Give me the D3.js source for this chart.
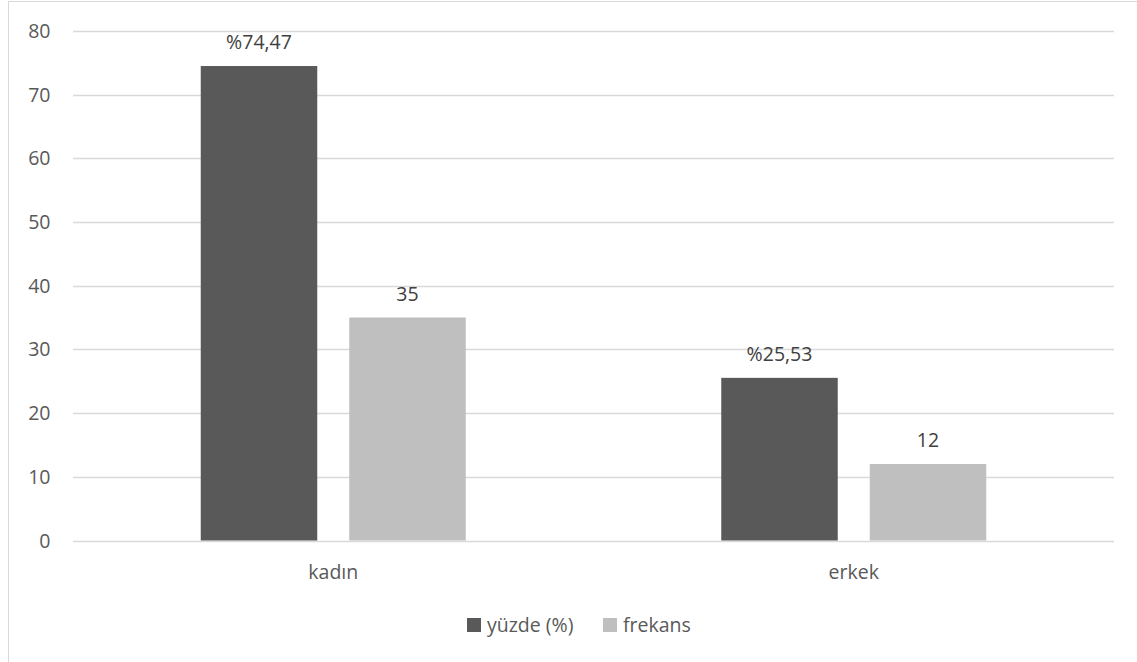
<!DOCTYPE html>
<html><head><meta charset="utf-8">
<script src="https://cdn.jsdelivr.net/npm/d3@7"></script>
<style>html,body{margin:0;padding:0;background:#fff;}svg{display:block;}</style>
</head><body>
<svg id="c" width="1137" height="662"></svg>
<script>
const categories = ["kadın", "erkek"];
const seriesNames = ["yüzde (%)", "frekans"];
const yuzde = [74.47, 25.53];
const frekans = [35, 12];
const yuzdeLabels = ["%74,47", "%25,53"];
const frekansLabels = ["35", "12"];
const yTicks = [0, 10, 20, 30, 40, 50, 60, 70, 80];
const colors = ["#595959", "#bfbfbf"];

(function () {
const svg = d3.select("#c");
const font = "'Open Sans', 'Noto Sans', sans-serif";
const textColor = "#595959";
const fs = 19.5;

svg.append("rect").attr("x", 8.5).attr("y", 1.5).attr("width", 1200).attr("height", 800)
  .attr("fill", "none").attr("stroke", "#d9d9d9").attr("stroke-width", 1);

const pLeft = 73, pRight = 1114, pTop = 30.8, pBottom = 540.5;
const y = d3.scaleLinear().domain([0, 80]).range([pBottom, pTop]);
const x0 = d3.scaleBand().domain(categories).range([pLeft, pRight]).paddingInner(0).paddingOuter(0);
const groupW = 265;
const x1 = d3.scaleBand().domain(seriesNames)
  .range([(x0.bandwidth() - groupW) / 2, (x0.bandwidth() + groupW) / 2])
  .paddingInner(32 / 148.5).paddingOuter(0);

svg.append("g").selectAll("line").data(yTicks).join("line")
  .attr("x1", pLeft).attr("x2", pRight)
  .attr("y1", d => Math.round(y(d)) + 0.5).attr("y2", d => Math.round(y(d)) + 0.5)
  .attr("stroke", "#d9d9d9").attr("stroke-width", 1.3);

svg.append("g").selectAll("text").data(yTicks).join("text")
  .attr("x", 50.5).attr("y", d => y(d) + 7)
  .attr("text-anchor", "end").attr("font-family", font).attr("font-size", fs)
  .attr("fill", textColor).text(d => d);

const seriesData = [
  {name: seriesNames[0], values: yuzde, labels: yuzdeLabels, color: colors[0]},
  {name: seriesNames[1], values: frekans, labels: frekansLabels, color: colors[1]}
];

const bars = [];
seriesData.forEach(s => {
  categories.forEach((c, i) => bars.push({cat: c, s: s.name, v: s.values[i], label: s.labels[i], color: s.color}));
});

svg.append("g").selectAll("rect").data(bars).join("rect")
  .attr("x", d => x0(d.cat) + x1(d.s))
  .attr("y", d => y(d.v))
  .attr("width", x1.bandwidth())
  .attr("height", d => y(0) - y(d.v))
  .attr("fill", d => d.color);

svg.append("g").selectAll("text").data(bars).join("text")
  .attr("x", d => x0(d.cat) + x1(d.s) + x1.bandwidth() / 2)
  .attr("y", d => y(d.v) - 17)
  .attr("text-anchor", "middle").attr("font-family", font).attr("font-size", fs)
  .attr("fill", "#404040").text(d => d.label);

svg.append("g").selectAll("text").data(categories).join("text")
  .attr("x", d => x0(d) + x0.bandwidth() / 2).attr("y", 579)
  .attr("text-anchor", "middle").attr("font-family", font).attr("font-size", fs)
  .attr("fill", textColor).text(d => d);

const legendItems = [
  {name: seriesNames[0], color: colors[0], x: 467},
  {name: seriesNames[1], color: colors[1], x: 603}
];
const lg = svg.append("g");
legendItems.forEach(it => {
  lg.append("rect").attr("x", it.x).attr("y", 618).attr("width", 14).attr("height", 14).attr("fill", it.color);
  lg.append("text").attr("x", it.x + 20).attr("y", 632)
    .attr("font-family", font).attr("font-size", fs).attr("fill", textColor).text(it.name);
});
})();
</script>
</body></html>
